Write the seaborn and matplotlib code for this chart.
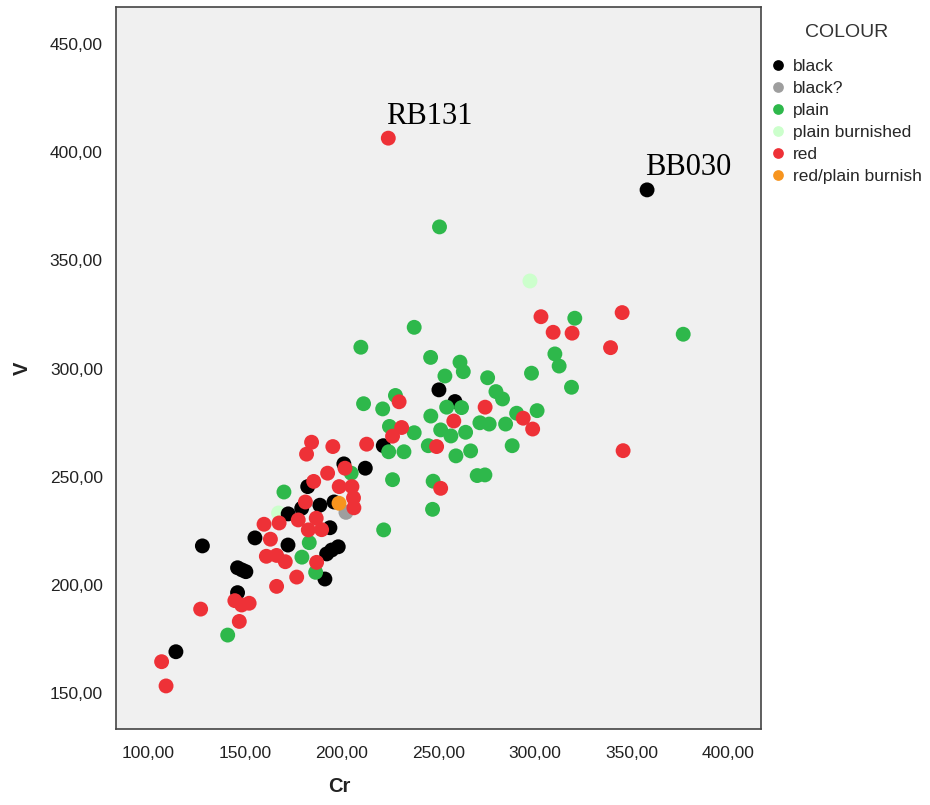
import matplotlib
matplotlib.use("Agg")
import matplotlib.pyplot as plt
import seaborn as sns
import pandas as pd
from matplotlib.ticker import FuncFormatter

# values (Cr vs V, grouped by COLOUR)
black_cr = [358.0, 250.3, 258.6, 221.5, 212.2, 201.1, 182.4, 188.7, 196.0, 179.3, 172.3, 193.9,
            155.1, 172.2, 198.2, 194.8, 192.2, 191.3, 127.9, 146.1, 148.4, 150.4, 146.1, 114.2]
black_v = [382.6, 290.2, 284.8, 264.4, 254.0, 256.0, 245.5, 236.9, 238.4, 235.5, 232.9, 226.5,
           221.8, 218.5, 217.7, 216.2, 214.4, 202.8, 218.1, 208.0, 207.0, 206.2, 196.5, 169.2]

grey_cr = [202.2]
grey_v = [233.6]

orange_cr = [198.6]
orange_v = [237.8]

burnished_cr = [167.3, 297.4]
burnished_v = [233.3, 340.5]

red_cr = [224.1, 303.1, 309.4, 319.2, 345.1, 339.1, 345.6, 298.8, 293.9, 274.2, 258.0, 249.1,
          251.2, 229.7, 231.0, 226.3, 212.9, 184.4, 195.4, 181.8, 201.7, 192.7, 185.5, 198.7,
          205.3, 206.1, 206.3, 181.2, 177.5, 186.8, 182.7, 189.6, 159.8, 167.6, 163.1, 161.0,
          166.3, 170.8, 187.0, 176.7, 166.3, 144.7, 148.2, 152.1, 147.0, 127.0, 106.8, 109.1]
red_v = [406.5, 324.0, 316.8, 316.4, 325.9, 309.7, 262.1, 272.1, 277.1, 282.2, 275.8, 264.0,
         244.7, 284.7, 272.8, 268.8, 265.1, 266.0, 264.0, 260.5, 254.0, 251.7, 247.9, 245.5,
         245.5, 240.3, 235.7, 238.4, 230.1, 230.9, 225.5, 225.6, 228.1, 228.7, 221.2, 213.3,
         213.7, 210.8, 210.5, 203.7, 199.4, 192.8, 190.8, 191.6, 183.2, 188.9, 164.6, 153.4]

plain_cr = [250.6, 320.6, 376.7, 237.5, 310.3, 312.5, 246.0, 261.2, 262.9, 253.4, 275.5, 298.2,
            318.9, 279.8, 283.2, 262.0, 254.3, 246.1, 290.5, 301.1, 271.5, 276.3, 284.8, 251.2,
            256.5, 264.1, 237.5, 227.8, 209.9, 211.3, 221.2, 224.7, 224.3, 232.2, 244.8, 259.1,
            266.7, 288.2, 226.3, 247.3, 270.1, 274.1, 247.0, 221.7, 204.9, 170.1, 183.2, 179.4,
            186.5, 141.0]
plain_v = [365.5, 323.3, 315.9, 319.1, 306.8, 301.2, 305.2, 303.0, 298.6, 296.6, 295.8, 297.9,
           291.4, 289.4, 286.0, 282.0, 282.2, 278.1, 279.4, 280.6, 275.0, 274.4, 274.4, 271.7,
           268.9, 270.6, 270.4, 287.6, 309.9, 283.8, 281.4, 273.3, 261.6, 261.6, 264.4, 259.7,
           262.0, 264.4, 248.7, 248.0, 250.6, 250.9, 235.0, 225.5, 251.7, 243.0, 219.6, 212.9,
           205.9, 176.9]

categories = ["black", "black?", "plain", "plain burnished", "red", "red/plain burnish"]
colours = ["#000000", "#9e9e9e", "#2eb84b", "#ccffcc", "#ee3137", "#f7941e"]

xticks = [100, 150, 200, 250, 300, 350, 400]
yticks = [150, 200, 250, 300, 350, 400, 450]

labels = {"RB131": (224.1, 406.5), "BB030": (358.0, 382.6)}

# rows in drawing order (later rows sit on top)
parts = [
    ("plain burnished", burnished_cr, burnished_v),
    ("black", black_cr, black_v),
    ("black?", grey_cr, grey_v),
    ("plain", plain_cr, plain_v),
    ("red", red_cr, red_v),
    ("red/plain burnish", orange_cr, orange_v),
]
df = pd.concat([pd.DataFrame({"Cr": c, "V": v, "COLOUR": name}) for name, c, v in parts],
               ignore_index=True)

sns.set_style("white")
plt.rcParams["font.family"] = ["Liberation Sans", "DejaVu Sans"]

fig = plt.figure(figsize=(9.3, 8.05), dpi=100)
ax = fig.add_axes([116 / 930, 1 - 729 / 805, 644.7 / 930, 722 / 805])
ax.set_facecolor("#f0f0f0")

sns.scatterplot(data=df, x="Cr", y="V", hue="COLOUR", hue_order=categories,
                palette=dict(zip(categories, colours)), s=115, linewidth=0,
                alpha=1, ax=ax)

ax.set_xlim(83.2, 416.8)
ax.set_ylim(133.5, 467.1)
ax.set_xticks(xticks)
ax.set_yticks(yticks)
fmt = FuncFormatter(lambda val, pos: f"{val:.2f}".replace(".", ","))
ax.xaxis.set_major_formatter(fmt)
ax.yaxis.set_major_formatter(fmt)
ax.tick_params(axis="both", direction="out", length=8, width=1.2, color="#333333",
               labelsize=12.5, labelcolor="#222222")
ax.tick_params(axis="y", pad=1.5)
ax.tick_params(axis="x", pad=4)
for sp in ax.spines.values():
    sp.set_color("#444444")
    sp.set_linewidth(1.2)

ax.set_xlabel("Cr", fontsize=14.5, fontweight="bold", color="#222222")
ax.set_ylabel("V", fontsize=14.5, fontweight="bold", color="#222222")
ax.xaxis.set_label_coords(0.347, -0.067)
ax.yaxis.set_label_coords(-0.130, 0.5)

for name, (x, y) in labels.items():
    ax.annotate(name, xy=(x, y), xytext=(-1.5, 10.5), textcoords="offset points",
                ha="left", va="baseline", fontsize=22,
                family=["Liberation Serif", "DejaVu Serif"], color="black")

sns.move_legend(ax, "upper left", bbox_to_anchor=(771 / 930, 1 - 24 / 805),
                bbox_transform=fig.transFigure, frameon=False, title="COLOUR",
                fontsize=12.5, title_fontsize=14, markerscale=0.72,
                handlelength=0.8, handletextpad=0.46, labelspacing=0.4,
                borderpad=0, borderaxespad=0)
leg = ax.get_legend()
leg.get_title().set_color("#333333")
leg._legend_box.sep = 12.6  # extra room between title and entries

fig.savefig("out.png", dpi=100, facecolor="white")
